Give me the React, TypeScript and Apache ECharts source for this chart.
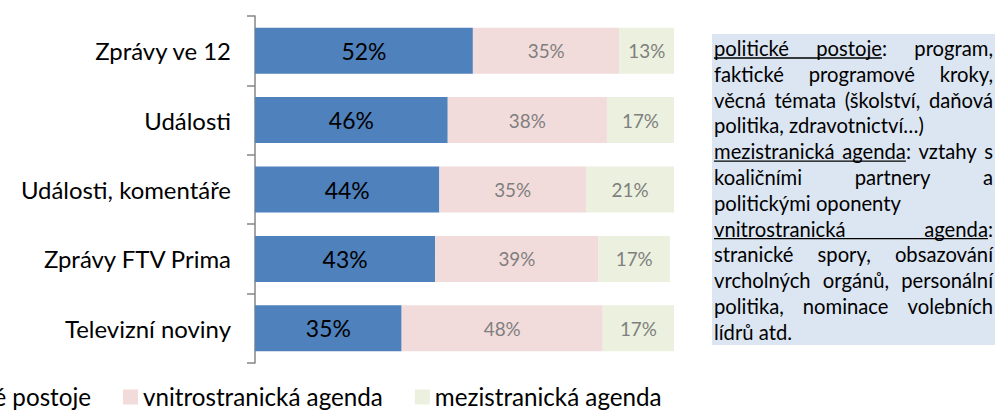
import React, { useEffect, useRef } from "react";
import * as echarts from "echarts";

const categories = ["Zprávy ve 12", "Události", "Události, komentáře", "Zprávy FTV Prima", "Televizní noviny"];
const seriesNames = ["politické postoje", "vnitrostranická agenda", "mezistranická agenda"];
const politickePostoje = [52, 46, 44, 43, 35];
const vnitrostranicka = [35, 38, 35, 39, 48];
const mezistranicka = [13, 17, 21, 17, 17];

const noteLines = [
  { text: "politické postoje: program,", justify: true, underlineWords: 2 },
  { text: "faktické programové kroky,", justify: true, underlineWords: 0 },
  { text: "věcná témata (školství, daňová", justify: true, underlineWords: 0 },
  { text: "politika, zdravotnictví…)", justify: false, underlineWords: 0 },
  { text: "mezistranická agenda: vztahy s", justify: true, underlineWords: 2 },
  { text: "koaličními partnery a", justify: true, underlineWords: 0 },
  { text: "politickými oponenty", justify: false, underlineWords: 0 },
  { text: "vnitrostranická agenda:", justify: true, underlineWords: 2 },
  { text: "stranické spory, obsazování", justify: true, underlineWords: 0 },
  { text: "vrcholných orgánů, personální", justify: true, underlineWords: 0 },
  { text: "politika, nominace volebních", justify: true, underlineWords: 0 },
  { text: "lídrů atd.", justify: false, underlineWords: 0 },
];

const FONT = "Lato";

export default function App() {
  const ref = useRef<HTMLDivElement>(null);

  useEffect(() => {
    if (!ref.current) return;
    const canvas = document.createElement("canvas");
    const ctx = canvas.getContext("2d")!;
    const measure = (t: string, size: number) => {
      ctx.font = `${size}px ${FONT}`;
      return ctx.measureText(t).width;
    };
    const fit = (t: string, target: number) => (20 * target) / measure(t, 20);

    const axisFont = fit("Zprávy ve 12", 137);
    const blueFont = fit("52%", 45);
    const grayFont = fit("35%", 37);
    const legendFont = fit("vnitrostranická agenda", 240);
    const noteFont = fit("politika, zdravotnictví…)", 210);

    const w1 = measure(seriesNames[0], legendFont);
    const legendLeft = 71 - w1;
    const legendItemH = Math.max(15, legendFont * 1.2);
    const legendTop = 399.5 - legendItemH / 2;

    const noteLeft = 714;
    const noteRight = 993;
    const noteTop = 48;
    const pitch = 25.8;

    const elements: any[] = [
      {
        type: "rect",
        shape: { x: 712, y: 34, width: 300, height: 311 },
        style: { fill: "#DCE6F2" },
        z: 0,
      },
    ];
    noteLines.forEach((ln, i) => {
      const y = noteTop + i * pitch;
      const words = ln.text.split(" ");
      const widths = words.map((w) => measure(w, noteFont));
      const spaceW = measure(" ", noteFont);
      const total = widths.reduce((a, b) => a + b, 0);
      const gap = ln.justify && words.length > 1 ? (noteRight - noteLeft - total) / (words.length - 1) : spaceW;
      let x = noteLeft;
      const xs: number[] = [];
      words.forEach((w, j) => {
        xs.push(x);
        elements.push({
          type: "text",
          x,
          y,
          style: { text: w, font: `${noteFont}px ${FONT}`, fill: "#000", textAlign: "left", textVerticalAlign: "middle" },
          z: 2,
        });
        x += widths[j] + gap;
      });
      if (ln.underlineWords > 0) {
        const k = ln.underlineWords - 1;
        const lastWord = words[k].replace(/:$/, "");
        const x2 = xs[k] + measure(lastWord, noteFont);
        elements.push({
          type: "line",
          shape: { x1: noteLeft, y1: y + 10, x2, y2: y + 10 },
          style: { stroke: "#000", lineWidth: 1.3 },
          z: 2,
        });
      }
    });

    const chart = echarts.init(ref.current, undefined, { renderer: "svg" });
    const grayLabel = { show: true, position: "inside", color: "#7F7F7F", fontSize: grayFont, fontFamily: FONT, formatter: "{c}%" };
    chart.setOption({
      animation: false,
      textStyle: { fontFamily: FONT },
      grid: { left: 255, right: 321, top: 16, bottom: 48, containLabel: false },
      xAxis: { type: "value", min: 0, max: 100, show: false },
      yAxis: {
        type: "category",
        data: categories,
        inverse: true,
        axisLine: { show: true, lineStyle: { color: "#868686", width: 1.5 } },
        axisTick: { show: true, length: 8, lineStyle: { color: "#868686", width: 1.5 } },
        axisLabel: { color: "#000", fontSize: axisFont, fontFamily: FONT, margin: 24 },
      },
      legend: {
        data: seriesNames,
        left: legendLeft,
        top: legendTop,
        padding: 0,
        icon: "rect",
        itemWidth: 15,
        itemHeight: 15,
        itemGap: 32,
        textStyle: { color: "#000", fontSize: legendFont, fontFamily: FONT },
      },
      series: [
        {
          name: seriesNames[0],
          type: "bar",
          stack: "total",
          barWidth: 46,
          data: politickePostoje,
          itemStyle: { color: "#4F81BD" },
          label: { show: true, position: "inside", color: "#000", fontSize: blueFont, fontFamily: FONT, formatter: "{c}%" },
        },
        {
          name: seriesNames[1],
          type: "bar",
          stack: "total",
          barWidth: 46,
          data: vnitrostranicka,
          itemStyle: { color: "#F2DCDB" },
          label: grayLabel,
        },
        {
          name: seriesNames[2],
          type: "bar",
          stack: "total",
          barWidth: 46,
          data: mezistranicka,
          itemStyle: { color: "#EBF1DE" },
          label: grayLabel,
        },
      ],
      graphic: { elements },
    });
    return () => chart.dispose();
  }, []);

  return <div ref={ref} style={{ width: 995, height: 411, position: "absolute", left: 0, top: 0 }} />;
}
